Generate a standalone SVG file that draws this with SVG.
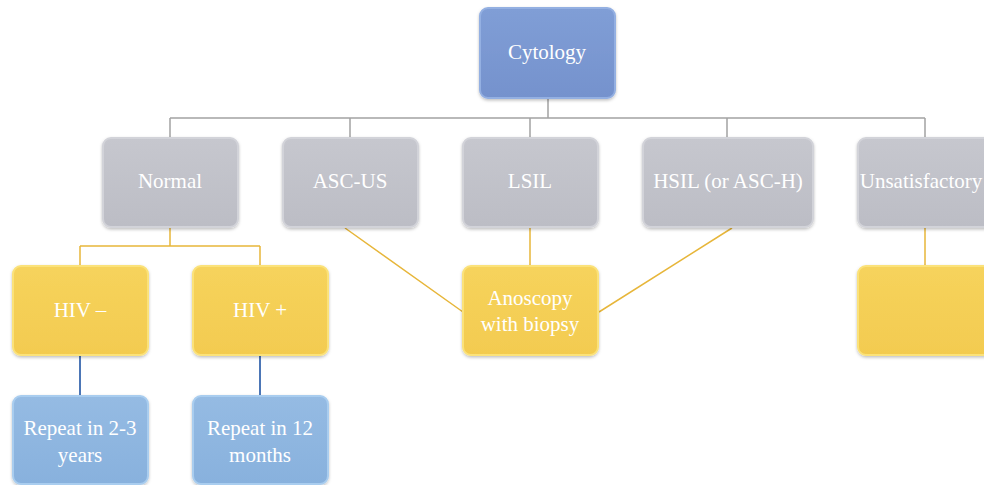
<svg xmlns="http://www.w3.org/2000/svg" width="984" height="485" viewBox="0 0 984 485">
<defs>
<filter id="sh" x="-10%" y="-10%" width="120%" height="125%">
<feDropShadow dx="0" dy="1.5" stdDeviation="1.5" flood-color="#000" flood-opacity="0.25"/>
</filter>
<linearGradient id="gG" x1="0" y1="0" x2="0" y2="1"><stop offset="0" stop-color="#c6c7ce"/><stop offset="1" stop-color="#bcbdc5"/></linearGradient>
<linearGradient id="gY" x1="0" y1="0" x2="0" y2="1"><stop offset="0" stop-color="#f6d35c"/><stop offset="1" stop-color="#f3cb50"/></linearGradient>
<linearGradient id="gB" x1="0" y1="0" x2="0" y2="1"><stop offset="0" stop-color="#95bbe3"/><stop offset="1" stop-color="#88b1dd"/></linearGradient>
<linearGradient id="gC" x1="0" y1="0" x2="0" y2="1"><stop offset="0" stop-color="#809ed6"/><stop offset="1" stop-color="#7592cd"/></linearGradient>
</defs>
<style>
.box{filter:url(#sh);stroke-width:2}
.g{fill:url(#gG);stroke:#d2d3d9}
.y{fill:url(#gY);stroke:#fbe27a}
.b{fill:url(#gB);stroke:#a9cdef}
.c{fill:url(#gC);stroke:#94b0e2}
text{font-family:"Liberation Serif","Times New Roman",serif;font-size:21px;fill:#ffffff;text-anchor:middle}
.lg{stroke:#a3a3a3;stroke-width:1.5;fill:none}
.ly{stroke:#e7b63a;stroke-width:1.5;fill:none}
.lb{stroke:#4c76b6;stroke-width:2;fill:none}
</style>
<g id="connectors">
<path class="lg" d="M548 98V118M170 118H925M170 118V138M350 118V138M530 118V138M727 118V138M925 118V138"/>
<path class="ly" d="M170 228V246M80 246H260M80 246V266M260 246V266"/>
<path class="ly" d="M530 228V265M345 228L463 312M732 228L599 312M925 228V266"/>
<path class="lb" d="M80 356V395M260 356V395"/>
</g>
<g id="cytology"><rect class="box c" x="480" y="8" width="135" height="90" rx="8"/><text x="547" y="59">Cytology</text></g>
<g id="normal"><rect class="box g" x="103" y="138" width="135" height="89" rx="8"/><text x="170" y="188">Normal</text></g>
<g id="ascus"><rect class="box g" x="283" y="138" width="135" height="89" rx="8"/><text x="350" y="188">ASC-US</text></g>
<g id="lsil"><rect class="box g" x="463" y="138" width="135" height="89" rx="8"/><text x="530" y="188">LSIL</text></g>
<g id="hsil"><rect class="box g" x="643" y="138" width="170" height="89" rx="8"/><text x="728" y="188">HSIL (or ASC-H)</text></g>
<g id="unsatisfactory"><rect class="box g" x="858" y="138" width="140" height="89" rx="8"/><text x="921" y="188">Unsatisfactory</text></g>
<g id="hivneg"><rect class="box y" x="13" y="266" width="135" height="89" rx="8"/><text x="80" y="317">HIV –</text></g>
<g id="hivpos"><rect class="box y" x="193" y="266" width="135" height="89" rx="8"/><text x="260" y="317">HIV +</text></g>
<g id="anoscopy"><rect class="box y" x="463" y="266" width="135" height="89" rx="8"/><text x="530" y="305">Anoscopy</text><text x="530" y="331">with biopsy</text></g>
<g id="unsat-next"><rect class="box y" x="858" y="266" width="140" height="89" rx="8"/></g>
<g id="repeat23"><rect class="box b" x="13" y="396" width="135" height="88" rx="8"/><text x="80" y="435">Repeat in 2-3</text><text x="80" y="462">years</text></g>
<g id="repeat12"><rect class="box b" x="193" y="396" width="135" height="88" rx="8"/><text x="260" y="435">Repeat in 12</text><text x="260" y="462">months</text></g>
</svg>
